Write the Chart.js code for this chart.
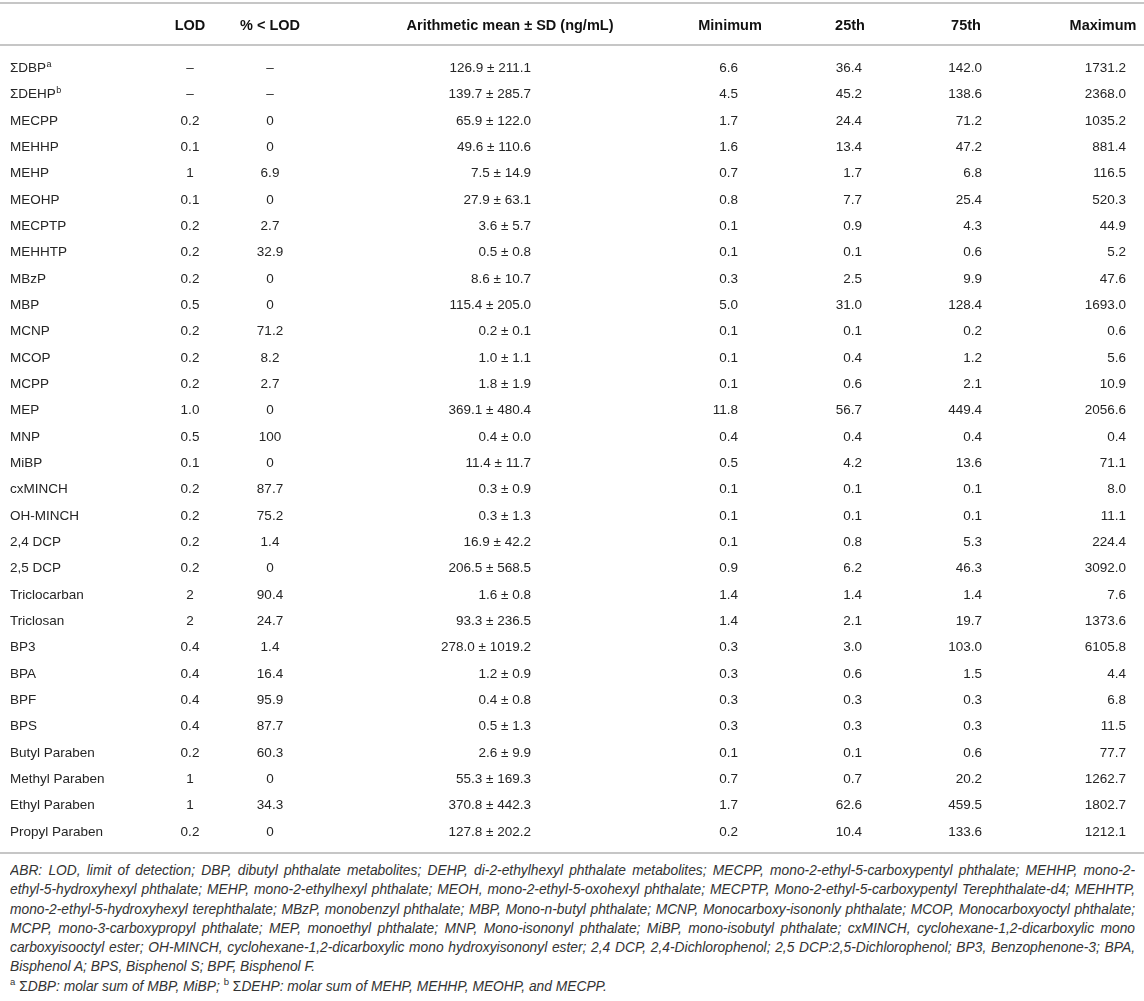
<!DOCTYPE html>
<html>
<head>
<meta charset="utf-8">
<script src="https://cdn.jsdelivr.net/npm/chart.js@4.4.0/dist/chart.umd.min.js"></script>
<style>
  body { margin: 0; background: #fff; width: 1144px; }
  #wrap { position: relative; width: 1144px; height: 858px; }
  .notes { font-family: "Liberation Sans", Arial, sans-serif; font-style: italic; font-size: 13.8px; color: #333; padding: 0 9px 0 10px; margin-top: 3px; }
  .notes div { line-height: 19.3px; height: 19.3px; text-align: justify; text-align-last: justify; white-space: nowrap; overflow: hidden; }
  .notes div.last { text-align-last: left; }
  .notes sup { font-style: normal; font-size: 9.5px; line-height: 0; }
  .up { font-style: normal; }
</style>
</head>
<body>
<div id="wrap"><canvas id="tabla" width="1144" height="858"></canvas></div>
<div class="notes">
  <div>ABR: LOD, limit of detection; DBP, dibutyl phthalate metabolites; DEHP, di-2-ethylhexyl phthalate metabolites; MECPP, mono-2-ethyl-5-carboxypentyl phthalate; MEHHP, mono-2-</div>
  <div>ethyl-5-hydroxyhexyl phthalate; MEHP, mono-2-ethylhexyl phthalate; MEOH, mono-2-ethyl-5-oxohexyl phthalate; MECPTP, Mono-2-ethyl-5-carboxypentyl Terephthalate-d4; MEHHTP,</div>
  <div>mono-2-ethyl-5-hydroxyhexyl terephthalate; MBzP, monobenzyl phthalate; MBP, Mono-n-butyl phthalate; MCNP, Monocarboxy-isononly phthalate; MCOP, Monocarboxyoctyl phthalate;</div>
  <div>MCPP, mono-3-carboxypropyl phthalate; MEP, monoethyl phthalate; MNP, Mono-isononyl phthalate; MiBP, mono-isobutyl phthalate; cxMINCH, cyclohexane-1,2-dicarboxylic mono</div>
  <div>carboxyisooctyl ester; OH-MINCH, cyclohexane-1,2-dicarboxylic mono hydroxyisononyl ester; 2,4 DCP, 2,4-Dichlorophenol; 2,5 DCP:2,5-Dichlorophenol; BP3, Benzophenone-3; BPA,</div>
  <div class="last">Bisphenol A; BPS, Bisphenol S; BPF, Bisphenol F.</div>
  <div class="last"><sup>a</sup> <span class="up">Σ</span>DBP: molar sum of MBP, MiBP; <sup>b</sup> <span class="up">Σ</span>DEHP: molar sum of MEHP, MEHHP, MEOHP, and MECPP.</div>
</div>
<script>
// Datos de la tabla
const compuestos = ['ΣDBP', 'ΣDEHP', 'MECPP', 'MEHHP', 'MEHP', 'MEOHP', 'MECPTP', 'MEHHTP', 'MBzP', 'MBP',
  'MCNP', 'MCOP', 'MCPP', 'MEP', 'MNP', 'MiBP', 'cxMINCH', 'OH-MINCH', '2,4 DCP', '2,5 DCP',
  'Triclocarban', 'Triclosan', 'BP3', 'BPA', 'BPF', 'BPS', 'Butyl Paraben', 'Methyl Paraben', 'Ethyl Paraben', 'Propyl Paraben'];
const superindices = ['a', 'b'];
const lod = ['–', '–', '0.2', '0.1', '1', '0.1', '0.2', '0.2', '0.2', '0.5',
  '0.2', '0.2', '0.2', '1.0', '0.5', '0.1', '0.2', '0.2', '0.2', '0.2',
  '2', '2', '0.4', '0.4', '0.4', '0.4', '0.2', '1', '1', '0.2'];
const pctBajoLod = ['–', '–', 0, 0, 6.9, 0, 2.7, 32.9, 0, 0,
  71.2, 8.2, 2.7, 0, 100, 0, 87.7, 75.2, 1.4, 0,
  90.4, 24.7, 1.4, 16.4, 95.9, 87.7, 60.3, 0, 34.3, 0];
const media = [126.9, 139.7, 65.9, 49.6, 7.5, 27.9, 3.6, 0.5, 8.6, 115.4,
  0.2, 1.0, 1.8, 369.1, 0.4, 11.4, 0.3, 0.3, 16.9, 206.5,
  1.6, 93.3, 278.0, 1.2, 0.4, 0.5, 2.6, 55.3, 370.8, 127.8];
const desv = [211.1, 285.7, 122.0, 110.6, 14.9, 63.1, 5.7, 0.8, 10.7, 205.0,
  0.1, 1.1, 1.9, 480.4, 0.0, 11.7, 0.9, 1.3, 42.2, 568.5,
  0.8, 236.5, 1019.2, 0.9, 0.8, 1.3, 9.9, 169.3, 442.3, 202.2];
const minimo = [6.6, 4.5, 1.7, 1.6, 0.7, 0.8, 0.1, 0.1, 0.3, 5.0,
  0.1, 0.1, 0.1, 11.8, 0.4, 0.5, 0.1, 0.1, 0.1, 0.9,
  1.4, 1.4, 0.3, 0.3, 0.3, 0.3, 0.1, 0.7, 1.7, 0.2];
const p25 = [36.4, 45.2, 24.4, 13.4, 1.7, 7.7, 0.9, 0.1, 2.5, 31.0,
  0.1, 0.4, 0.6, 56.7, 0.4, 4.2, 0.1, 0.1, 0.8, 6.2,
  1.4, 2.1, 3.0, 0.6, 0.3, 0.3, 0.1, 0.7, 62.6, 10.4];
const p75 = [142.0, 138.6, 71.2, 47.2, 6.8, 25.4, 4.3, 0.6, 9.9, 128.4,
  0.2, 1.2, 2.1, 449.4, 0.4, 13.6, 0.1, 0.1, 5.3, 46.3,
  1.4, 19.7, 103.0, 1.5, 0.3, 0.3, 0.6, 20.2, 459.5, 133.6];
const maximo = [1731.2, 2368.0, 1035.2, 881.4, 116.5, 520.3, 44.9, 5.2, 47.6, 1693.0,
  0.6, 5.6, 10.9, 2056.6, 0.4, 71.1, 8.0, 11.1, 224.4, 3092.0,
  7.6, 1373.6, 6105.8, 4.4, 6.8, 11.5, 77.7, 1262.7, 1802.7, 1212.1];
const encabezados = ['', 'LOD', '% < LOD', 'Arithmetic mean ± SD (ng/mL)', 'Minimum', '25th', '75th', 'Maximum'];

// Posición horizontal de cada columna (en unidades del eje x) y alineación
const columnas = [
  { x: 10, align: 'left', hx: 10 },
  { x: 190, align: 'center', hx: 190 },
  { x: 270, align: 'center', hx: 270 },
  { x: 531, align: 'right', hx: 510 },
  { x: 738, align: 'right', hx: 730 },
  { x: 862, align: 'right', hx: 850 },
  { x: 982, align: 'right', hx: 966 },
  { x: 1126, align: 'right', hx: 1103 }
];

const fuente = '"Liberation Sans", Arial, sans-serif';
const textos = [
  compuestos,
  lod,
  pctBajoLod.map(v => String(v)),
  media.map((m, i) => m.toFixed(1) + ' ± ' + desv[i].toFixed(1)),
  minimo.map(v => v.toFixed(1)),
  p25.map(v => v.toFixed(1)),
  p75.map(v => v.toFixed(1)),
  maximo.map(v => v.toFixed(1))
];

const datasets = textos.map((col, c) => ({
  label: encabezados[c],
  textos: col,
  data: col.map((t, i) => ({ x: columnas[c].x, y: i })),
  pointRadius: 0,
  showLine: false
}));

// Plugin que escribe el texto de cada celda sobre la posición de su punto
const pluginTabla = {
  id: 'tabla',
  afterDatasetsDraw(chart) {
    const ctx = chart.ctx;
    const area = chart.chartArea;
    const xs = chart.scales.x;
    ctx.save();
    // líneas horizontales
    ctx.strokeStyle = '#c6c6c6';
    ctx.lineWidth = 2;
    [3, area.top, area.bottom].forEach(y => {
      ctx.beginPath();
      ctx.moveTo(0, y);
      ctx.lineTo(chart.width, y);
      ctx.stroke();
    });
    // encabezados
    ctx.fillStyle = '#111';
    ctx.font = 'bold 14.5px ' + fuente;
    ctx.textBaseline = 'middle';
    ctx.textAlign = 'center';
    encabezados.forEach((h, c) => {
      if (h) ctx.fillText(h, xs.getPixelForValue(columnas[c].hx), 26);
    });
    // celdas
    ctx.fillStyle = '#252525';
    chart.data.datasets.forEach((ds, c) => {
      const meta = chart.getDatasetMeta(c);
      meta.data.forEach((pt, i) => {
        ctx.font = '13.5px ' + fuente;
        ctx.textAlign = columnas[c].align;
        ctx.fillText(ds.textos[i], pt.x, pt.y);
        if (c === 0 && superindices[i]) {
          const w = ctx.measureText(ds.textos[i]).width;
          ctx.font = '9px ' + fuente;
          ctx.textAlign = 'left';
          ctx.fillText(superindices[i], pt.x + w + 0.5, pt.y - 4);
        }
      });
    });
    ctx.restore();
  }
};

new Chart(document.getElementById('tabla').getContext('2d'), {
  type: 'scatter',
  data: { datasets: datasets },
  options: {
    responsive: false,
    animation: false,
    events: [],
    layout: { padding: { top: 45, bottom: 5, left: 0, right: 0 } },
    plugins: { legend: { display: false }, tooltip: { enabled: false } },
    scales: {
      x: { type: 'linear', min: 0, max: 1144, display: false },
      y: { type: 'linear', min: -0.89, max: 29.8, reverse: true, display: false }
    }
  },
  plugins: [pluginTabla]
});
</script>
</body>
</html>
